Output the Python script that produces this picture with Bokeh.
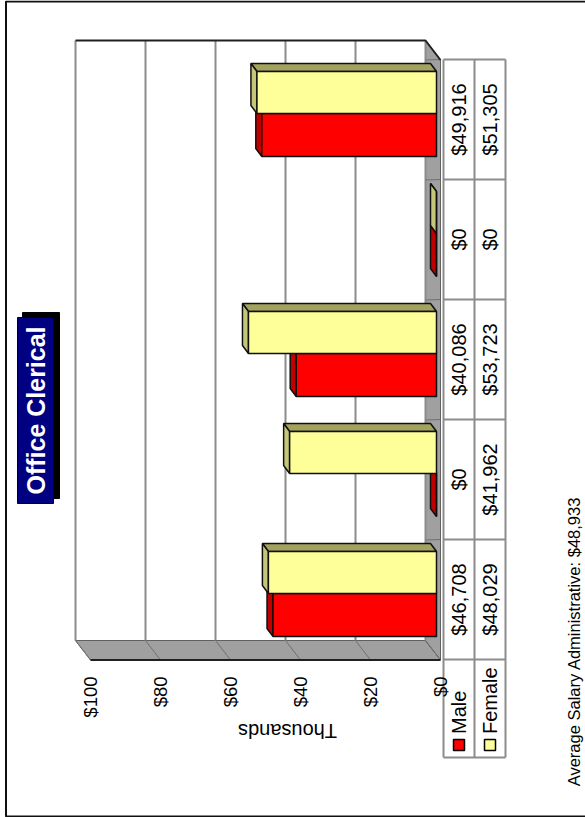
import math
from bokeh.plotting import figure
from bokeh.models import Range1d, ColumnDataSource
from bokeh.core.properties import value
from bokeh.embed import file_html
from bokeh.resources import INLINE

male = [46708, 0, 40086, 0, 49916]
female = [48029, 41962, 53723, 0, 51305]
ticks = [0, 20, 40, 60, 80, 100]
series_names = ["Male", "Female"]
title_text = "Office Clerical"
axis_title = "Thousands"
note_text = "Average Salary Administrative: $48,933"

W, H = 585, 817
PX_PER_K = 3.5
ZERO_PX = 436.0
SLOT_PX = 120.0
BASE_PX = 659.0
FONT = value("Liberation Sans")


def X(px):
    return (ZERO_PX - px) / PX_PER_K


def Y(px):
    return (BASE_PX - px) / SLOT_PX


p = figure(width=W, height=H, output_backend="svg", toolbar_location=None,
           x_range=Range1d(X(0), X(W)), y_range=Range1d(Y(H), Y(0)),
           min_border=0, x_axis_type=None, y_axis_type=None, outline_line_color=None,
           background_fill_color="white", border_fill_color="white")
p.grid.visible = False
p.styles = {"position": "absolute", "left": "0px", "top": "0px"}

GREY = "#8c8c8c"
FLOOR = "#a0a0a0"
DEEP_X, DEEP_Y = 15, 19.5  # chart depth in px
BACK_R, BACK_T, BACK_B, BACK_L = 425, 40, 640, 75

# side strips (floor and wall)
p.patch([X(BACK_L), X(BACK_R), X(BACK_R + DEEP_X), X(BACK_L + DEEP_X)],
        [Y(BACK_B), Y(BACK_B), Y(BACK_B + DEEP_Y), Y(BACK_B + DEEP_Y)],
        fill_color=FLOOR, line_color="#606060", line_width=1)
p.patch([X(BACK_R), X(BACK_R), X(BACK_R + DEEP_X), X(BACK_R + DEEP_X)],
        [Y(BACK_T), Y(BACK_B), Y(BACK_B + DEEP_Y), Y(BACK_T + DEEP_Y)],
        fill_color=FLOOR, line_color="#606060", line_width=1)

# back gridlines and floor ticks
for t in ticks:
    xb = X(BACK_R - t * PX_PER_K)
    xf = X(BACK_R + DEEP_X - t * PX_PER_K)
    p.line([xb, xb], [Y(BACK_T), Y(BACK_B)], line_color=GREY, line_width=2)
    p.line([xb, xf], [Y(BACK_B), Y(BACK_B + DEEP_Y)], line_color="#707070", line_width=1)
for i in range(len(male) + 1):
    p.line([X(BACK_R), X(BACK_R + DEEP_X)], [i + Y(BACK_B + DEEP_Y) - Y(BACK_B) + Y(BACK_B), i],
           line_color="#707070", line_width=1)

# dark outline edges
p.line([X(BACK_L), X(BACK_R), X(BACK_R + DEEP_X)], [Y(BACK_T), Y(BACK_T), Y(BACK_T + DEEP_Y)],
       line_color="#202020", line_width=2)
p.line([X(BACK_L + DEEP_X), X(BACK_R + DEEP_X)], [Y(BACK_B + DEEP_Y), Y(BACK_B + DEEP_Y)],
       line_color="#202020", line_width=2)

# 3D bars
BAR_DX = 6 / PX_PER_K
BAR_DY = 8 / SLOT_PX
BAR_STYLE = [
    ("#ff0000", "#c00000", "#a00000", 23 / SLOT_PX, 66 / SLOT_PX),
    ("#ffff99", "#c6c678", "#a3a35f", 66 / SLOT_PX, 108 / SLOT_PX),
]
for vals, (front, side, top, lo, hi) in zip([male, female], BAR_STYLE):
    k = [v / 1000 for v in vals]
    cats = list(range(len(vals)))
    p.patches([[0, v, v + BAR_DX, BAR_DX] for v in k],
              [[c + hi, c + hi, c + hi + BAR_DY, c + hi + BAR_DY] for c in cats],
              fill_color=top, line_color="#101010", line_width=1.5)
    p.patches([[v, v + BAR_DX, v + BAR_DX, v] for v in k],
              [[c + lo, c + lo + BAR_DY, c + hi + BAR_DY, c + hi] for c in cats],
              fill_color=side, line_color="#101010", line_width=1.5)
    p.quad(left=[0] * len(k), right=k, bottom=[c + lo for c in cats], top=[c + hi for c in cats],
           fill_color=front, line_color="#101010", line_width=1.5)

# data table
T_L, T_M, T_R = 443, 474, 505
T_B = 757
cols = [(T_L + T_M) / 2, (T_M + T_R) / 2]
for px in (T_L, T_M, T_R):
    p.line([X(px), X(px)], [Y(T_B), len(male)], line_color=GREY, line_width=2)
for i in range(len(male) + 1):
    p.line([X(T_L), X(T_R)], [i, i], line_color=GREY, line_width=2)
p.line([X(T_L), X(T_R)], [Y(T_B), Y(T_B)], line_color=GREY, line_width=2)

for col, vals in zip(cols, [male, female]):
    src = ColumnDataSource(dict(
        x=[X(col)] * len(vals), y=[i + 0.5 for i in range(len(vals))],
        t=["${:,}".format(v) for v in vals]))
    p.text("x", "y", text="t", source=src, angle=math.pi / 2, text_align="center",
           text_baseline="middle", text_font=FONT, text_font_size="20px", text_color="black")

# legend
for col, name, colr in zip(cols, series_names, ["#ff0000", "#ffff99"]):
    p.quad(left=[X(col - 5.5)], right=[X(col + 5.5)], bottom=[Y(750)], top=[Y(739)],
           fill_color=colr, line_color="black", line_width=1.5)
    p.text([X(col)], [Y(733.5)], text=[name], angle=math.pi / 2, text_align="left",
           text_baseline="middle", text_font=FONT, text_font_size="20px", text_color="black")

# value axis labels
p.text([X(BACK_R + DEEP_X - t * PX_PER_K) for t in ticks], [Y(676)] * len(ticks),
       text=["${}".format(t) for t in ticks], angle=math.pi / 2, text_align="right",
       text_baseline="middle", text_font=FONT, text_font_size="18.5px", text_color="black")

p.text([X(287)], [Y(730)], text=[axis_title], angle=math.pi, text_align="center",
       text_baseline="middle", text_font=FONT, text_font_size="20px", text_color="black")

# title box
p.quad(left=[X(22)], right=[X(59)], bottom=[Y(498)], top=[Y(312)], fill_color="black", line_color="black")
p.quad(left=[X(17)], right=[X(53)], bottom=[Y(503)], top=[Y(317)], fill_color="#000080", line_color="black", line_width=1)
p.text([X(35.5)], [Y(410)], text=[title_text], angle=math.pi / 2, text_align="center", text_baseline="middle",
       text_font=FONT, text_font_style="bold", text_font_size="25px", text_color="white")

# footnote
p.text([X(573)], [Y(641)], text=[note_text], angle=math.pi / 2, text_align="center", text_baseline="middle",
       text_font=FONT, text_font_size="16.5px", text_color="black")

# chart border
p.line([X(W + 5), X(5.5), X(5.5), X(W + 5)], [Y(1), Y(1), Y(816), Y(816)], line_color="#101010", line_width=2)

open("out.html", "w").write(file_html(p, INLINE))
